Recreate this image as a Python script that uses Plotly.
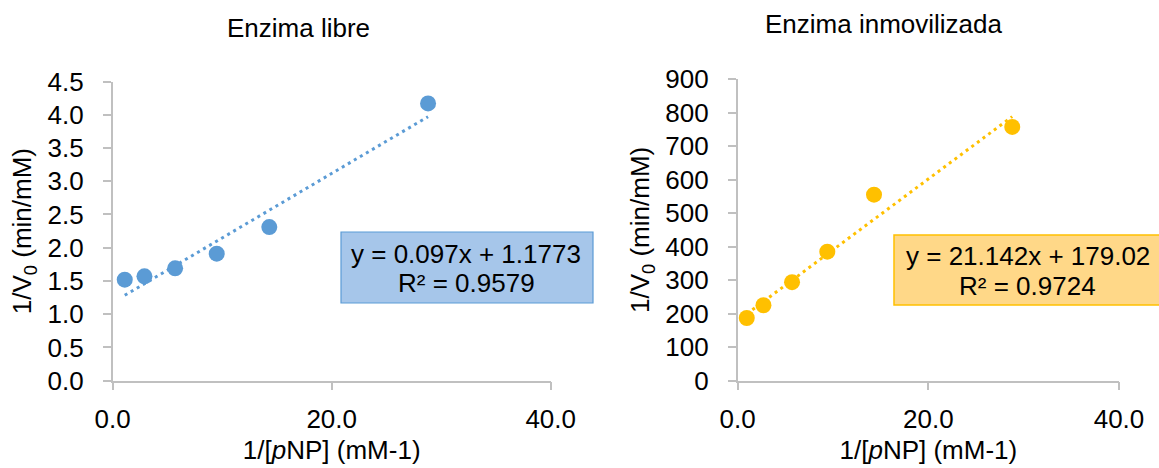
import plotly.graph_objects as go

W, H = 1159, 468

# Data
x_libre = [1.1, 2.9, 5.7, 9.5, 14.3, 28.8]
y_libre = [1.52, 1.57, 1.69, 1.91, 2.31, 4.17]
x_inmov = [0.95, 2.7, 5.7, 9.4, 14.3, 28.8]
y_inmov = [187, 225, 294, 385, 555, 757]
slope_libre, icpt_libre = 0.097, 1.1773
slope_inmov, icpt_inmov = 21.142, 179.02
eq_libre = ["y = 0.097x + 1.1773", "R² = 0.9579"]
eq_inmov = ["y = 21.142x + 179.02", "R² = 0.9724"]
titles = ["Enzima libre", "Enzima inmovilizada"]
x_title = "1/[<i>p</i>NP] (mM-1)"
y_title = "1/V<sub>0</sub> (min/mM)"

BLUE = "#5b9bd5"
GOLD = "#ffc000"
FONT = "Liberation Sans, Arial, sans-serif"
FS = 26

def px(x):
    return x / W

def py(y):
    return 1 - y / H

fig = go.Figure()

def trend(xs, m, b):
    x0, x1 = min(xs), max(xs)
    return [x0, x1], [m * x0 + b, m * x1 + b]

tx, ty = trend(x_libre, slope_libre, icpt_libre)
fig.add_trace(go.Scatter(x=tx, y=ty, mode="lines", xaxis="x", yaxis="y",
                         line=dict(color=BLUE, width=3, dash="3px,4px"), showlegend=False))
fig.add_trace(go.Scatter(x=x_libre, y=y_libre, mode="markers", xaxis="x", yaxis="y",
                         marker=dict(color=BLUE, size=16), showlegend=False))
tx, ty = trend(x_inmov, slope_inmov, icpt_inmov)
fig.add_trace(go.Scatter(x=tx, y=ty, mode="lines", xaxis="x2", yaxis="y2",
                         line=dict(color=GOLD, width=3, dash="3px,4px"), showlegend=False))
fig.add_trace(go.Scatter(x=x_inmov, y=y_inmov, mode="markers", xaxis="x2", yaxis="y2",
                         marker=dict(color=GOLD, size=16), showlegend=False))

axcommon = dict(showgrid=False, zeroline=False, showline=True, linecolor="#c0c0c0",
                linewidth=1.5, ticks="outside", tickcolor="#c0c0c0", ticklen=8, tickwidth=1.5,
                automargin=False,
                tickfont=dict(size=FS, color="#000000", family=FONT))
xcommon = dict(axcommon, range=[0, 40], tickvals=[0, 20, 40], tickformat=".1f",
               ticklabelstandoff=6,
               title=dict(text=x_title, font=dict(size=FS, family=FONT, color="#000"), standoff=8))
ycommon = dict(axcommon, ticklabelstandoff=14,
               title=dict(text=y_title, font=dict(size=FS, family=FONT, color="#000"), standoff=8))

fig.update_layout(
    width=W, height=H, margin=dict(l=0, r=0, t=0, b=0, pad=0, autoexpand=False),
    paper_bgcolor="white", plot_bgcolor="white",
    font=dict(family=FONT, color="#000"),
    xaxis=dict(xcommon, domain=[px(112.7), px(550.7)], anchor="y"),
    yaxis=dict(ycommon, domain=[py(380.7), py(81.5)], anchor="x", range=[0, 4.5], dtick=0.5,
               tickformat=".1f"),
    xaxis2=dict(xcommon, domain=[px(737.7), px(1119)], anchor="y2"),
    yaxis2=dict(ycommon, domain=[py(380.7), py(79)], anchor="x2", range=[0, 900], dtick=100),
)

shapes = [
    dict(type="rect", xref="paper", yref="paper", x0=px(341), x1=px(593), y0=py(303), y1=py(232),
         fillcolor="#a6c6ea", line=dict(color=BLUE, width=1.2), layer="above"),
    dict(type="rect", xref="paper", yref="paper", x0=px(894), x1=px(1165), y0=py(305), y1=py(235),
         fillcolor="#ffd888", line=dict(color=GOLD, width=1.5), layer="above"),
]
fig.update_layout(shapes=shapes)

def ann(text, x, y, size=FS):
    return dict(text=text, x=px(x), y=py(y), xref="paper", yref="paper", showarrow=False,
                xanchor="center", yanchor="middle",
                font=dict(size=size, family=FONT, color="#000"))

annotations = [
    ann(titles[0], 298, 28),
    ann(titles[1], 884, 24),
    ann(eq_libre[0], 466, 254),
    ann(eq_libre[1], 466, 283),
    ann(eq_inmov[0], 1028, 256),
    ann(eq_inmov[1], 1027, 286),
]
fig.update_layout(annotations=annotations)

fig.write_html("out.html")
